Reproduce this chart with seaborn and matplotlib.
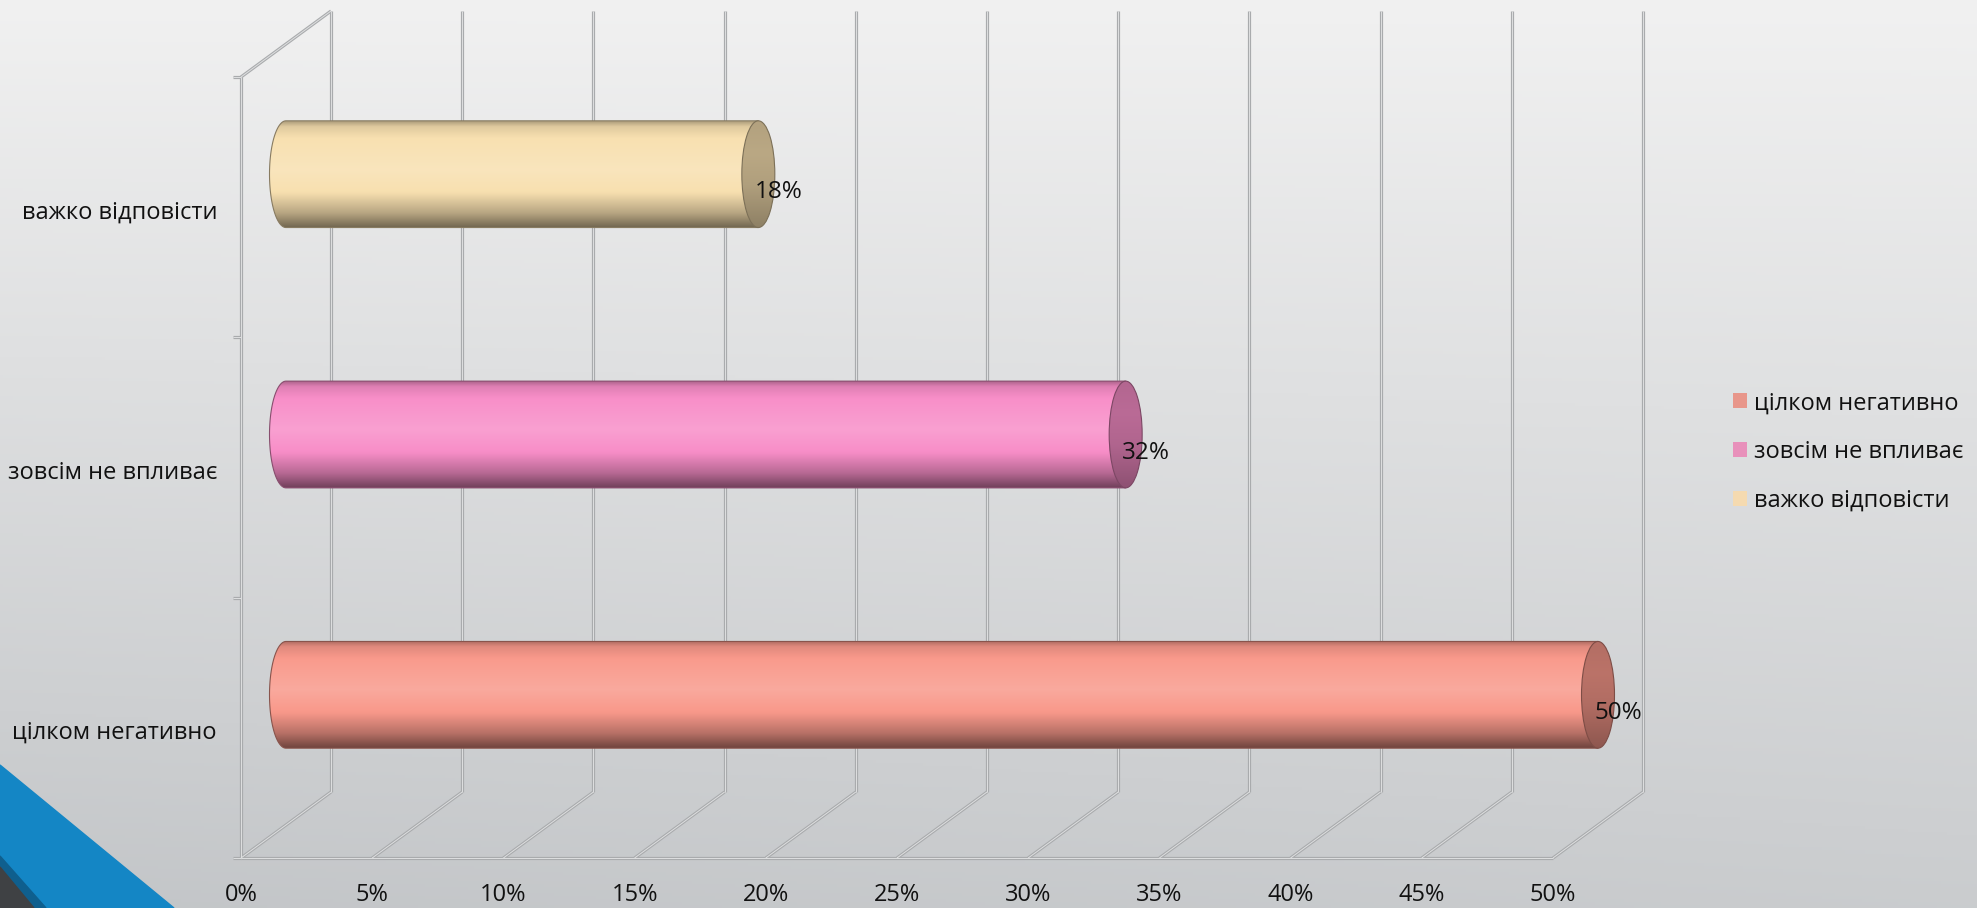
import numpy as np
import pandas as pd
import matplotlib
matplotlib.use("Agg")
import matplotlib.pyplot as plt
import matplotlib.transforms as mtransforms
import seaborn as sns
from matplotlib.path import Path
from matplotlib.patches import PathPatch, Ellipse, Patch, Polygon
from matplotlib.colors import to_rgb

# ---- data ----
categories = ["важко відповісти", "зовсім не впливає", "цілком негативно"]
values = [18, 32, 50]
value_labels = ["18%", "32%", "50%"]
bar_colors = ["#f8e0b0", "#f88ec8", "#f9998b"]
legend_order = ["цілком негативно", "зовсім не впливає", "важко відповісти"]
legend_colors = ["#e8968a", "#e890bb", "#f5dab0"]
x_ticks = list(range(0, 51, 5))
x_tick_labels = [f"{t}%" for t in x_ticks]

sns.set_theme(style="white")
plt.rcParams["font.family"] = ["Open Sans", "DejaVu Sans"]
FS = 17

W, H, DPI = 1977, 908, 100
fig = plt.figure(figsize=(W / DPI, H / DPI), dpi=DPI)

# ---- slide background ----
bg = fig.add_axes([0, 0, 1, 1], zorder=-10)
yy, xx = np.mgrid[0:1:300j, 0:1:600j]
c_top = np.array([0.945, 0.945, 0.945])
c_bot = np.array([0.765, 0.775, 0.785])
tt = np.clip(0.85 * yy + 0.15 * yy * (1 - xx), 0, 1)[..., None]
bg.imshow(c_top * (1 - tt) + c_bot * tt, extent=(0, W, H, 0), aspect="auto")
bg.add_patch(Polygon([(0, 765), (174, H), (0, H)], closed=True, color="#1486c5"))
bg.add_patch(Polygon([(0, 856), (46, H), (0, H)], closed=True, color="#0f5f8e"))
bg.add_patch(Polygon([(0, 867), (34, H), (0, H)], closed=True, color="#3f4144"))
bg.set_xlim(0, W)
bg.set_ylim(H, 0)
bg.axis("off")

# ---- main chart ----
ax = fig.add_axes([286 / W, 83 / H, 1312 / W, 781 / H])
ax.patch.set_alpha(0)
df = pd.DataFrame({"category": categories, "value": values})
sns.barplot(data=df, x="value", y="category", hue="category", order=categories,
            hue_order=categories, palette=bar_colors, width=0.41, saturation=1,
            legend=False, ax=ax, zorder=3)
ax.set_xlim(0, 50)
ax.set_ylim(2.5, -0.5)
ax.axis("off")

DEPTH_X, DEPTH_Y = 45, 33  # half depth of the 3-D box, in pixels


def at(x, y, depth=0, dx=0, dy=0):
    """Data point moved toward the front (depth=-1) or back (depth=+1)."""
    px, py = ax.transData.transform((x, y))
    px += depth * DEPTH_X + dx
    py += depth * DEPTH_Y + dy
    return ax.transData.inverted().transform((px, py))


def edge(p, q):
    xs = [p[0], q[0]]
    ys = [p[1], q[1]]
    ax.plot(xs, ys, color="#a9abad", lw=2.3, solid_capstyle="butt", zorder=1, clip_on=False)
    ax.plot(xs, ys, color="#dedfe0", lw=0.7, solid_capstyle="butt", zorder=1.1, clip_on=False)


y_lo, y_hi = 2.5, -0.5
for t in x_ticks:
    edge(at(t, y_lo, +1), at(t, y_hi, +1))      # back wall gridline
    edge(at(t, y_lo, -1), at(t, y_lo, +1))      # floor diagonal
edge(at(0, y_lo, -1), at(50, y_lo, -1))          # front floor edge
edge(at(0, y_lo, -1), at(0, y_hi, -1))           # side wall front edge
edge(at(0, y_hi, -1), at(0, y_hi, +1))           # side wall top edge
for yb in [-0.5, 0.5, 1.5, 2.5]:
    edge(at(0, yb, -1, dx=-8), at(0, yb, -1))

# ---- cylinder shading ----
def mix(c, m):
    c = np.array(c)
    return c + (1 - c) * m if m >= 0 else c * (1 + m)


profile_t = [0.0, 0.05, 0.18, 0.45, 0.68, 0.86, 1.0]
profile_m = [-0.30, -0.10, 0.02, 0.16, -0.02, -0.26, -0.55]
cap_t = [0.0, 0.3, 0.6, 1.0]
cap_m = [-0.28, -0.25, -0.29, -0.43]


def gradient(base, ts, ms, n=256):
    base = to_rgb(base)
    s = np.linspace(0, 1, n)
    m = np.interp(s, ts, ms)
    return np.array([mix(base, v) for v in m])


p0 = ax.transData.transform((0, 0))
p1 = ax.transData.transform((1, 1))
rx = 16.5 / (p1[0] - p0[0])

for p in list(ax.patches):
    w = p.get_width()
    h = p.get_height()
    yc = p.get_y() + h / 2
    i = int(round(yc))
    base = bar_colors[i]
    p.set_edgecolor("none")

    th = np.linspace(np.pi / 2, 3 * np.pi / 2, 80)
    xs = list(rx * np.cos(th)) + [w, w]
    ys = list(yc - (h / 2) * np.sin(th)) + [yc + h / 2, yc - h / 2]
    verts = list(zip(xs, ys)) + [(xs[0], ys[0])]
    codes = [Path.MOVETO] + [Path.LINETO] * (len(verts) - 2) + [Path.CLOSEPOLY]
    body = PathPatch(Path(verts, codes), transform=ax.transData)
    g = gradient(base, profile_t, profile_m)
    im = ax.imshow(g[:, None, :], extent=(-rx, w + rx, yc + h / 2, yc - h / 2),
                   aspect="auto", interpolation="bilinear", zorder=4)
    im.set_clip_box(fig.bbox)
    im.set_clip_path(body)
    ax.add_patch(PathPatch(Path(verts, codes), facecolor="none", clip_on=False,
                           edgecolor=mix(to_rgb(base), -0.45), lw=0.8, zorder=4.5))

    cap = Ellipse((w, yc), 2 * rx, h, transform=ax.transData)
    gc = gradient(base, cap_t, cap_m)
    imc = ax.imshow(gc[:, None, :], extent=(w - rx, w + rx, yc + h / 2, yc - h / 2),
                    aspect="auto", interpolation="bilinear", zorder=5)
    imc.set_clip_box(fig.bbox)
    imc.set_clip_path(cap)
    ax.add_patch(Ellipse((w, yc), 2 * rx, h, facecolor="none", clip_on=False,
                         edgecolor=mix(to_rgb(base), -0.5), lw=0.8, zorder=5.5))

    ax.text(w, yc, value_labels[i], ha="left", va="center", fontsize=FS + 0.5, color="#111111",
            zorder=8, transform=mtransforms.offset_copy(ax.transData, fig=fig, x=-4, y=-18, units="dots"))

ax.set_xlim(0, 50)
ax.set_ylim(2.5, -0.5)

# ---- category and axis labels on the front plane ----
for i, cat in enumerate(categories):
    ax.text(0, i, cat, ha="right", va="center", fontsize=FS, color="#111111",
            transform=mtransforms.offset_copy(ax.transData, fig=fig, x=-DEPTH_X - 24, y=-38, units="dots"))
for t, lab in zip(x_ticks, x_tick_labels):
    ax.text(t, y_lo, lab, ha="center", va="center", fontsize=FS, color="#111111",
            transform=mtransforms.offset_copy(ax.transData, fig=fig, x=-DEPTH_X, y=-DEPTH_Y - 37, units="dots"))

handles = [Patch(facecolor=c, edgecolor="none") for c in legend_colors]
fig.legend(handles, legend_order, loc="center left", bbox_to_anchor=(1733 / W, 1 - 452 / H),
           frameon=False, fontsize=FS, handlelength=0.6, handleheight=0.6,
           handletextpad=0.3, labelspacing=1.05, labelcolor="#111111", borderaxespad=0,
           borderpad=0)

fig.savefig("out.png", dpi=DPI)
